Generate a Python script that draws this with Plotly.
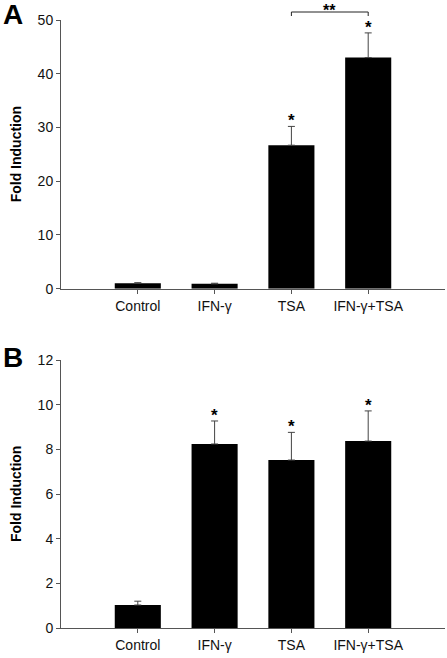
import plotly.graph_objects as go
from plotly.subplots import make_subplots

categories = ["Control", "IFN-γ", "TSA", "IFN-γ+TSA"]
a_values = [1.0, 0.9, 26.7, 43.0]
a_err = [0.12, 0.12, 3.5, 4.6]
b_values = [1.03, 8.24, 7.52, 8.37]
b_err = [0.17, 1.03, 1.24, 1.35]
a_sig = [False, False, True, True]
b_sig = [False, True, True, True]

FONT = "Liberation Sans, Arial, sans-serif"
W, H = 447, 658
ML, MR, MT, MB = 61, 2, 20, 30
plot_h = H - MT - MB
plot_w = W - ML - MR

def fy(p):
    return (H - MB - p) / plot_h

def fx(p):
    return (p - ML) / plot_w

fig = make_subplots(rows=2, cols=1, vertical_spacing=0.1)

for row, vals, errs in [(1, a_values, a_err), (2, b_values, b_err)]:
    fig.add_trace(go.Bar(
        x=categories, y=vals, width=0.6,
        marker=dict(color="black", line=dict(width=0)),
        error_y=dict(type="data", array=errs, arrayminus=[0] * len(errs),
                     symmetric=False, color="#444", thickness=1, width=3.5),
        showlegend=False, hoverinfo="skip",
    ), row=row, col=1)

fig.update_layout(
    width=W, height=H,
    margin=dict(l=ML, r=MR, t=MT, b=MB),
    paper_bgcolor="white", plot_bgcolor="white",
    font=dict(family=FONT, size=14, color="#111"),
    xaxis=dict(domain=[0, 1]), xaxis2=dict(domain=[0, 1]),
    yaxis=dict(domain=[fy(288.7), 1.0], range=[0, 50], tickvals=[0, 10, 20, 30, 40, 50]),
    yaxis2=dict(domain=[0, fy(360)], range=[0, 12], tickvals=[0, 2, 4, 6, 8, 10, 12]),
)

for ax in ["xaxis", "xaxis2"]:
    fig.layout[ax].update(range=[-1, 4], showline=True, linecolor="#555", linewidth=1,
                          ticks="outside", ticklen=4, tickcolor="#555", showgrid=False,
                          zeroline=False, tickfont=dict(size=14, color="#111"))
for ax in ["yaxis", "yaxis2"]:
    fig.layout[ax].update(showline=True, linecolor="#555", linewidth=1,
                          ticks="outside", ticklen=4, tickcolor="#555", showgrid=False,
                          zeroline=False, tickfont=dict(size=14, color="#111"))

ann = []
# significance asterisks
for (xr, yr, vals, errs, sig) in [("x", "y", a_values, a_err, a_sig), ("x2", "y2", b_values, b_err, b_sig)]:
    for c, v, e, s in zip(categories, vals, errs, sig):
        if s:
            ann.append(dict(x=c, y=v + e, xref=xr, yref=yr, text="<b>*</b>", showarrow=False,
                            yanchor="bottom", yshift=-6, font=dict(size=17, color="black")))

# bracket between TSA and IFN-γ+TSA in panel A
fig.add_shape(type="path", xref="x", yref="paper",
              path=f"M 2,{fy(16)} L 2,{fy(12)} L 3,{fy(12)} L 3,{fy(16)}",
              line=dict(color="#222", width=1))
ann.append(dict(x=2.5, y=fy(0), xref="x", yref="paper", text="<b>**</b>", showarrow=False,
                yanchor="top", font=dict(size=16, color="black")))

# y titles
for ytop, ybot in [(20, 288.7), (360, 628)]:
    ann.append(dict(x=fx(16), y=fy((ytop + ybot) / 2), xref="paper", yref="paper",
                    text="<b>Fold Induction</b>", textangle=-90, showarrow=False,
                    xanchor="center", yanchor="middle", font=dict(size=14, color="black")))

# panel letters
for letter, py in [("A", 15), ("B", 357)]:
    ann.append(dict(x=fx(13), y=fy(py), xref="paper", yref="paper",
                    text=f"<b>{letter}</b>", showarrow=False, xanchor="center", yanchor="middle",
                    font=dict(size=28, color="black")))

fig.update_layout(annotations=ann)
fig.write_html("out.html", config={"displayModeBar": False},
               post_script="document.body.style.margin='0px';document.body.style.overflow='hidden';")
